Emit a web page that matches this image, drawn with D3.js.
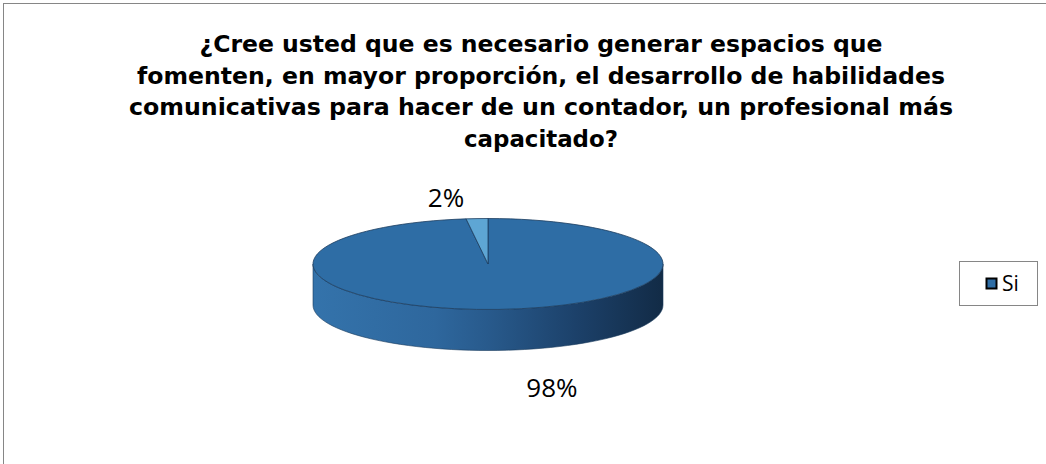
<!DOCTYPE html>
<html>
<head>
    <meta charset="UTF-8">
    <title>Habilidades comunicativas</title>
    <style>
        body {
            margin: 0;
            overflow: hidden;
            background-color: #ffffff;
        }
    </style>
    <script src="https://cdn.jsdelivr.net/npm/d3@7"></script>
</head>
<body>
    <script>
        // datos
        const categories = ["Si", ""];
        const values = [98, 2];
        const labels = ["98%", "2%"];
        const titleLines = [
            "¿Cree usted que es necesario generar espacios que",
            "fomenten, en mayor proporción, el desarrollo de habilidades",
            "comunicativas para hacer de un contador, un profesional más",
            "capacitado?"
        ];
        const titleWidths = [683, 808, 824, 154];

        const width = 1046;
        const height = 464;
        const svg = d3.select('body')
            .append('svg')
            .attr('width', width)
            .attr('height', height);

        // marco del grafico (cortado abajo y a la derecha)
        svg.append('rect')
            .attr('x', 3.5).attr('y', 3.5)
            .attr('width', width + 10).attr('height', height + 10)
            .attr('fill', 'white')
            .attr('stroke', '#868686')
            .attr('stroke-width', 1);

        // titulo
        svg.append('g').selectAll('text')
            .data(titleLines)
            .join('text')
            .attr('x', 541)
            .attr('y', (d, i) => 52 + i * 31.5)
            .attr('text-anchor', 'middle')
            .attr('font-family', 'DejaVu Sans, Verdana, sans-serif')
            .attr('font-weight', 'bold')
            .attr('font-size', 23)
            .attr('fill', '#000')
            .attr('textLength', (d, i) => titleWidths[i])
            .attr('lengthAdjust', 'spacingAndGlyphs')
            .text(d => d);

        // pastel 3D
        const cx = 488, cy = 264, rx = 175, ry = 45.5, depth = 41;
        const colors = d3.scaleOrdinal().domain(categories).range(['#2e6da5', '#5ea6d4']);

        const pie = d3.pie().sort(null).startAngle(0).endAngle(2 * Math.PI);
        const arcs = pie(values);

        const defs = svg.append('defs');
        const grad = defs.append('linearGradient')
            .attr('id', 'sideGrad')
            .attr('gradientUnits', 'userSpaceOnUse')
            .attr('x1', cx - rx).attr('x2', cx + rx)
            .attr('y1', 0).attr('y2', 0);
        [[0, '#3473ab'], [0.35, '#2e679d'], [0.5, '#285a8c'], [0.75, '#1c416a'], [1, '#122b46']]
            .forEach(s => grad.append('stop').attr('offset', s[0]).attr('stop-color', s[1]));

        const pt = (a, dy) => [cx + rx * Math.sin(a), cy - ry * Math.cos(a) + dy];

        // pared frontal: solo la parte visible (angulos entre 90 y 270 grados)
        const sidePath = (d) => {
            const a0 = Math.max(d.startAngle, Math.PI / 2);
            const a1 = Math.min(d.endAngle, 3 * Math.PI / 2);
            if (a1 <= a0) return null;
            const p = d3.path();
            const steps = 60;
            for (let i = 0; i <= steps; i++) {
                const [x, y] = pt(a0 + (a1 - a0) * i / steps, 0);
                i === 0 ? p.moveTo(x, y) : p.lineTo(x, y);
            }
            for (let i = steps; i >= 0; i--) {
                const [x, y] = pt(a0 + (a1 - a0) * i / steps, depth);
                p.lineTo(x, y);
            }
            p.closePath();
            return p.toString();
        };

        svg.append('g').selectAll('path')
            .data(arcs.filter(d => sidePath(d)))
            .join('path')
            .attr('d', sidePath)
            .attr('fill', 'url(#sideGrad)')
            .attr('stroke', '#1a3a5c')
            .attr('stroke-width', 0.6);

        const arc = d3.arc().innerRadius(0).outerRadius(rx);
        svg.append('g')
            .attr('transform', `translate(${cx},${cy}) scale(1,${ry / rx})`)
            .selectAll('path')
            .data(arcs)
            .join('path')
            .attr('d', arc)
            .attr('fill', (d, i) => colors(categories[i]))
            .attr('stroke', '#1d3e60')
            .attr('stroke-width', 0.8)
            .attr('vector-effect', 'non-scaling-stroke');

        // etiquetas de porcentaje
        const labelPos = (d) => {
            const a = (d.startAngle + d.endAngle) / 2;
            const [x, y] = pt(a, 0);
            const front = Math.cos(a) < 0;
            return front ? [x + 53, y + depth + 47] : [x - 31, y - 12];
        };
        svg.append('g').selectAll('text')
            .data(arcs)
            .join('text')
            .attr('x', d => labelPos(d)[0])
            .attr('y', d => labelPos(d)[1])
            .attr('text-anchor', 'middle')
            .attr('font-family', 'Open Sans, sans-serif')
            .attr('font-size', 26)
            .attr('fill', '#000')
            .text((d, i) => labels[i]);

        // leyenda (solo categorias con nombre)
        const legendItems = categories.filter(c => c !== '');
        const legend = svg.append('g');
        legend.append('rect')
            .attr('x', 959.5).attr('y', 261.5)
            .attr('width', 78).attr('height', 44)
            .attr('fill', 'white')
            .attr('stroke', '#868686');
        legend.selectAll('rect.key')
            .data(legendItems)
            .join('rect')
            .attr('class', 'key')
            .attr('x', 986.5).attr('y', (d, i) => 278.5 + i * 24)
            .attr('width', 10).attr('height', 10)
            .attr('fill', d => colors(d))
            .attr('stroke', '#000')
            .attr('stroke-width', 2);
        legend.selectAll('text')
            .data(legendItems)
            .join('text')
            .attr('x', 1002).attr('y', (d, i) => 291 + i * 24)
            .attr('font-family', 'Open Sans, sans-serif')
            .attr('font-size', 21)
            .attr('fill', '#000')
            .text(d => d);
    </script>
</body>
</html>
